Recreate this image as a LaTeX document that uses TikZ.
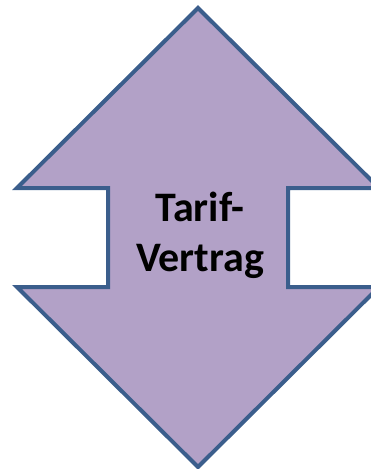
\documentclass[tikz,border=0pt]{standalone}
\usepackage{fontspec}
\setmainfont{Carlito}
\definecolor{arrowfill}{HTML}{B2A1C7}
\definecolor{arrowline}{HTML}{3B5E8C}
\tikzset{
  dblarrow/.style={fill=arrowfill, draw=arrowline, line width=4pt, line join=miter},
  label/.style={font=\bfseries\fontsize{42}{50}\selectfont, align=center, text=black}
}
\begin{document}
\begin{tikzpicture}[x=1pt, y=-1pt]
  \useasboundingbox (0,0) rectangle (371,469);
  \clip (0,0) rectangle (371,469);
  % vertical double-headed block arrow
  \draw[dblarrow] (198,8) -- (379,188) -- (288,188) -- (288,287) -- (379,287)
    -- (198,467) -- (17,287) -- (108,287) -- (108,188) -- (17,188) -- cycle;
  \node[label] (txt) at (200,235) {Tarif-\\Vertrag};
\end{tikzpicture}
\end{document}
